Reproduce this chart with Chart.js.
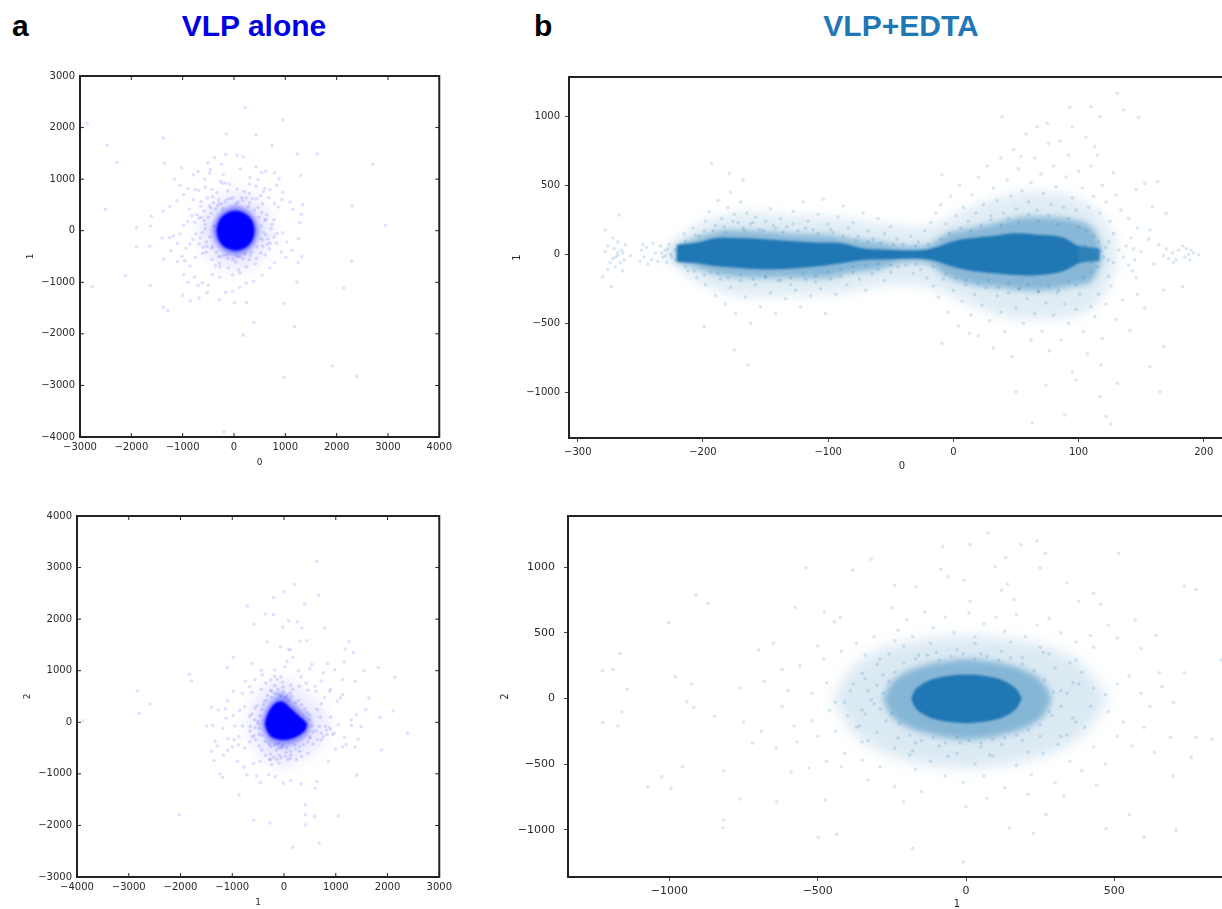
<!DOCTYPE html>
<html>
<head>
<meta charset="utf-8">
<title>VLP alone / VLP+EDTA</title>
<script src="https://cdn.jsdelivr.net/npm/chart.js@4"></script>
<style>
    html, body { margin: 0; width: 1222px; height: 909px; overflow: hidden; background: #fff; }
    canvas { position: absolute; }
    .head { position: absolute; top: 11px; font: bold 30px/1 "Liberation Sans", sans-serif; white-space: nowrap; }
    .mid { transform: translateX(-50%); }
</style>
</head>
<body>
<div class="head" style="left:12px;color:#000">a</div>
<div class="head mid" style="left:254px;color:#0000e6">VLP alone</div>
<div class="head" style="left:534px;color:#000">b</div>
<div class="head mid" style="left:901px;color:#1f77b4">VLP+EDTA</div>
<script>
// tick labels
const a1XTicks = [-3000, -2000, -1000, 0, 1000, 2000, 3000, 4000];
const a1YTicks = [-4000, -3000, -2000, -1000, 0, 1000, 2000, 3000];
const a2XTicks = [-4000, -3000, -2000, -1000, 0, 1000, 2000, 3000];
const a2YTicks = [-3000, -2000, -1000, 0, 1000, 2000, 3000, 4000];
const b1XTicks = [-300, -200, -100, 0, 100, 200];
const b1YTicks = [-1000, -500, 0, 500, 1000];
const b2XTicks = [-1000, -500, 0, 500, 1000];
const b2YTicks = [-1000, -500, 0, 500, 1000];

// dense cores, read as upper and lower outlines of each cloud
const a1CoreX = [-345, -300, -220, -120, 30, 180, 280, 365, 405];
const a1CoreTop = [0, 175, 285, 350, 385, 350, 285, 175, 0];
const a1CoreBottom = [0, -175, -285, -350, -385, -350, -285, -175, 0];
const a1FringeX = [-430, -350, -240, -100, 30, 160, 300, 410, 490];
const a1FringeTop = [0, 230, 370, 450, 480, 450, 370, 230, 0];
const a1FringeBottom = [0, -230, -370, -450, -480, -450, -370, -230, 0];
const a1MistX = [-700, -550, -350, -100, 40, 200, 430, 620, 780];
const a1MistTop = [0, 380, 600, 720, 760, 720, 600, 380, 0];
const a1MistBottom = [0, -380, -600, -720, -760, -720, -600, -380, 0];

const a2CoreX = [-370, -330, -260, -170, -70, 30, 130, 230, 320, 400, 445];
const a2CoreTop = [-10, 130, 270, 370, 410, 370, 270, 180, 100, 30, -30];
const a2CoreBottom = [-40, -170, -270, -320, -345, -345, -325, -285, -235, -170, -70];
const a2FringeX = [-450, -380, -280, -150, -50, 80, 220, 340, 450, 520];
const a2FringeTop = [0, 210, 370, 500, 560, 480, 330, 220, 120, -20];
const a2FringeBottom = [-50, -240, -370, -440, -470, -450, -400, -340, -240, -90];
const a2MistX = [-720, -560, -350, -100, 50, 250, 480, 720, 850];
const a2MistTop = [-30, 400, 680, 820, 820, 680, 480, 300, 0];
const a2MistBottom = [-30, -460, -700, -820, -830, -740, -600, -430, 0];

const b1CoreX = [-221, -204, -190, -168, -142, -112, -90, -72, -49, -38, -24, -14, -1, 13, 32, 50, 69, 87, 100];
const b1CoreTop = [68, 85, 116, 116, 104, 85, 80, 43, 31, 27, 31, 50, 92, 116, 133, 152, 140, 123, 55];
const b1CoreBottom = [-53, -65, -85, -100, -108, -90, -65, -41, -36, -31, -34, -48, -89, -118, -138, -150, -150, -125, -65];
const b1TailX = [96, 105, 117];
const b1TailTop = [70, 55, 43];
const b1TailBottom = [-75, -55, -46];
const b1FringeX = [-222, -205, -185, -160, -130, -100, -80, -60, -40, -20, -5, 15, 35, 55, 75, 95, 110, 118];
const b1FringeTop = [60, 120, 170, 170, 150, 140, 110, 90, 60, 70, 150, 190, 230, 270, 270, 250, 200, 60];
const b1FringeBottom = [-50, -100, -150, -170, -170, -170, -130, -110, -60, -70, -160, -220, -240, -260, -260, -230, -200, -60];
const b1MistX = [-230, -200, -170, -130, -90, -50, -20, 10, 40, 70, 100, 118, 130];
const b1MistTop = [50, 230, 300, 280, 260, 210, 200, 320, 420, 450, 400, 280, 100];
const b1MistBottom = [-40, -220, -300, -300, -280, -220, -240, -350, -450, -470, -440, -320, -100];

const b2CoreX = [-185, -170, -140, -100, -50, 0, 50, 100, 140, 170, 188];
const b2CoreTop = [0, 70, 120, 155, 175, 180, 175, 155, 120, 70, 0];
const b2CoreBottom = [0, -75, -125, -160, -180, -188, -180, -160, -125, -75, 0];
const b2FringeX = [-280, -250, -195, -120, -50, 5, 60, 130, 205, 260, 290];
const b2FringeTop = [0, 125, 210, 265, 290, 300, 290, 265, 210, 125, 0];
const b2FringeBottom = [0, -135, -220, -275, -305, -315, -305, -275, -220, -135, 0];
const b2MistX = [-450, -380, -280, -140, 0, 140, 290, 400, 480];
const b2MistTop = [0, 240, 380, 450, 470, 450, 380, 240, 0];
const b2MistBottom = [0, -260, -410, -500, -530, -500, -410, -260, 0];

// single faint points
const a1Points = [[220,2390],[950,2150],[-2860,2085],[-150,1875],[430,1860],[-1375,1800],[-2470,1660],[740,1650],[1240,1490],[1625,1490],[-2280,1325],[-1355,1305],[2700,1290],[1300,1065],[-2500,415],[2300,480],[2950,105],[2290,-590],[2140,-1110],[-2760,-1085],[-2115,-870],[-1630,-1065],[-1375,-1487],[-1290,-1550],[980,-1410],[1225,-1000],[390,-1780],[1175,-1860],[175,-2025],[1915,-2620],[2390,-2820],[980,-2840],[-200,-3900],
[-380,1420],[-160,1480],[60,1460],[180,1430],[-240,1290],[-510,1320],[-1020,1220],[-700,1150],[-460,1180],[430,1240],[120,1200],[540,1130],[-1160,1000],[-1050,880],[-790,1080],[-570,1000],[-480,1120],[-260,960],[-210,1090],[-90,900],[-230,920],[-170,925],[310,1030],[470,990],[620,1150],[790,1120],[880,1010],[-900,820],[-760,800],[-690,780],[-560,840],[-430,800],[-330,740],[-120,770],[60,810],[200,760],[300,900],[430,860],[600,820],[570,760],[700,800],[830,880],[950,740],[1340,510],[1310,320],[1280,160],[1150,410],[1090,560],[930,610],[860,460],[790,530],[680,640],[520,680],[440,620],[300,720],[150,640],[-20,640],[-130,610],[-300,600],[-410,660],[-520,640],[-640,560],[-650,470],[-790,600],[-870,420],[-980,700],[-1110,580],[-1250,470],[-1380,380],[-1610,280],[-1900,60],[-1630,90],[-1400,-140],[-1250,-130],[-1180,-100],[-1050,-60],[-980,100],[-900,180],[-820,290],[-720,310],[-580,200],[-560,40],[-660,-140],[-740,-60],[-860,-260],[-930,-340],[-1100,-250],[-1230,-390],[-1370,-550],[-1640,-300],[-1900,-310],[-1100,-600],[-1010,-500],[-960,-580],[-860,-680],[-750,-520],[-610,-440],[-530,-300],[-430,-560],[-360,-680],[-280,-630],[-200,-480],[-110,-720],[30,-600],[90,-760],[180,-540],[240,-700],[300,-560],[440,-540],[520,-430],[560,-300],[650,-260],[780,-120],[830,-240],[950,-40],[1030,-220],[1130,-380],[1260,-150],[1320,-500],[1250,-620],[1010,-520],[920,-410],[790,-620],[700,-720],[550,-860],[380,-980],[240,-1020],[110,-1100],[-30,-1170],[-280,-900],[-420,-850],[-500,-1060],[-620,-1010],[-770,-900],[-980,-850],[-1000,-1250],[-850,-1360],[-680,-1310],[-520,-1200],[-280,-1340],[10,-1400],[240,-1390],[-900,-1000],[-700,-1060],[-160,-1200],[-30,-860],[120,-820],[-300,-500],[-430,-340],[-540,-220],[-680,240],[-450,440],[-320,480],[-580,380],[540,350],[620,220],[740,120],[620,-80],[560,-180],[690,-350],[-120,-540],[60,-500],[320,-480],[-240,520],[80,560],[300,540],[470,450]];
const a1Near = [[-560,120],[-500,260],[-470,-120],[-440,340],[-420,-300],[-380,90],[-360,420],[-340,-420],[-290,520],[-260,-500],[-220,430],[-170,560],[-140,-470],[-70,620],[-20,-560],[40,520],[110,-510],[170,590],[210,-450],[280,470],[340,-420],[400,400],[450,-310],[490,260],[520,-150],[540,90],[580,-40],[600,200],[640,310],[660,-160],[700,-240],[720,40],[-620,-40],[-640,260],[-680,-260],[-600,-320],[-540,-420],[-480,480],[-400,540],[-280,-700],[240,640],[360,620],[420,-640],[560,520],[610,-470],[-760,160],[-800,-170],[780,210],[840,-60]];

const a2Points = [[635,3120],[205,2670],[-5,2530],[-200,2420],[670,2465],[400,2290],[-710,2250],[-360,2100],[-200,2090],[-585,1900],[-25,1850],[90,1970],[260,1950],[345,1830],[780,1830],[-330,1560],[315,1575],[440,1580],[1255,1560],[1180,1420],[1340,1355],[120,1400],[-70,1465],[-980,1260],[-615,1140],[-1095,1060],[-1830,930],[-1790,800],[-2830,610],[-2590,355],[-2795,175],[-3885,30],[2140,870],[1820,1060],[1370,790],[2110,220],[1850,95],[2385,-215],[1885,-535],[1405,-1025],[635,-1150],[600,-1280],[-870,-1405],[410,-1600],[410,-1790],[590,-1825],[1050,-1815],[410,-1990],[-585,-1900],[-275,-1955],[-2025,-1795],[680,-2340],[165,-2425],
[90,1420],[170,1260],[60,1180],[540,1120],[-180,1020],[-440,1010],[-420,920],[-180,890],[-60,880],[20,1080],[280,1000],[500,1040],[840,1140],[980,1020],[1160,1170],[1550,1000],[-740,800],[-660,690],[-560,830],[-350,760],[-260,820],[-130,830],[-30,780],[130,720],[330,880],[430,760],[600,700],[720,800],[900,640],[760,960],[1130,830],[1130,540],[1090,470],[1030,410],[880,600],[780,480],[620,600],[460,620],[300,700],[170,640],[-20,680],[-240,600],[-320,520],[-440,640],[-620,580],[-800,560],[-980,600],[-1090,420],[-1130,260],[-1270,240],[-1400,290],[-1500,-70],[-1380,-60],[-1180,-120],[-1120,80],[-980,130],[-950,-70],[-860,230],[-760,300],[-660,120],[-570,50],[-560,-100],[-660,-170],[-800,-70],[-870,-280],[-960,-340],[-1080,-320],[-1330,-370],[-1290,-460],[-1400,-560],[-1350,-740],[-1170,-640],[-1090,-540],[-1000,-480],[-900,-760],[-880,-440],[-760,-500],[-660,-380],[-580,-260],[-480,-460],[-430,-540],[-360,-640],[-280,-720],[-240,-820],[-150,-540],[-50,-500],[40,-580],[130,-640],[240,-720],[340,-660],[460,-600],[560,-420],[650,-340],[720,-340],[830,-240],[900,-140],[970,-210],[1050,-50],[1170,-290],[1200,-430],[1130,-480],[1000,-520],[860,-760],[1300,-60],[1490,-80],[1430,-330],[1370,-480],[1580,250],[1640,470],[1400,150],[1300,50],[900,100],[800,-80],[700,100],[640,250],[720,360],[-300,-1020],[-170,-1050],[-10,-1180],[130,-1130],[330,-1190],[-530,-1040],[-720,-1020],[-1240,-1000],[-1190,-1070],[-460,-1170],[-780,-870],[-590,-800],[-460,-760],[-100,-790],[70,-720],[300,-560],[500,-310],[-260,620],[-180,710],[60,520],[-380,400],[-520,320],[-500,-30],[-480,-230],[-280,-440],[-120,-420],[210,-440],[500,140],[-120,560],[120,560]];
const a2Near = [[-240,480],[-180,560],[-120,640],[-60,520],[-20,590],[30,480],[90,440],[150,500],[220,380],[280,420],[340,340],[400,260],[450,190],[500,60],[540,-70],[560,-190],[500,-280],[460,-380],[380,-430],[300,-470],[220,-520],[130,-560],[60,-500],[-30,-460],[-100,-500],[-180,-440],[-250,-480],[-300,-400],[-360,-370],[-430,-250],[-480,-120],[-510,20],[-470,130],[-430,250],[-400,340],[-340,430],[-550,-340],[-620,-280],[-650,-80],[-620,160],[-560,280],[620,-160],[680,-80],[720,-210],[760,-280],[820,-150],[880,-100],[940,-240],[-260,-620],[-200,-680],[-140,-720],[-60,-690],[30,-660],[120,-700],[-260,-720],[-90,-640]];

const b1Points = [[131,1167],[110,1070],[93,1065],[117,998],[136,1046],[148,993],[39,998],[95,925],[67,925],[76,804],[113,780],[54,708],[-9,575],[-193,659],[-168,539],[-179,587],[163,527],[153,514],[159,345],[170,297],[157,176],[-267,285],[-278,176],[-273,-234],[-280,-162],[-199,-524],[-175,-693],[-164,-802],[-9,-645],[13,-572],[98,-911],[118,-802],[157,-814],[168,-669],[165,-995],[131,-935],[50,-995],[74,-947],[89,-1164],[122,-1176],[126,-1229],[63,-1220],[117,-1031],[153,-391],[183,-234],[168,-258],
[-276,60],[-272,120],[-268,90],[-265,30],[-263,-40],[-270,-20],[-268,-10],[-272,-30],[-266,-60],[-270,-90],[-276,-110],[-264,-120],[-262,70],[-278,20],[-258,-10],[-274,-60],[-268,10],[-264,10],[-271,40],[-249,30],[-247,-20],[-245,50],[-241,-40],[-238,10],[-236,-50],[-234,60],[-232,-20],[-230,30],[-229,-60],[-227,70],[-226,0],[-233,10],[-240,80],[-244,-70],[-248,70],[-250,-50],
[124,90],[128,-60],[132,30],[136,-20],[138,60],[140,-80],[142,120],[143,-120],[144,40],[145,-40],[146,-170],[147,190],[150,20],[128,150],[124,-160],[170,40],[172,-30],[175,10],[178,-40],[180,30],[183,60],[185,-20],[186,40],[188,0],[189,-40],[190,30],[192,10],[176,-60],[168,-10],[164,70],[160,-70],[156,110],[196,-5],
[-215,150],[-208,190],[-203,130],[-198,240],[-195,310],[-192,170],[-188,390],[-185,260],[-183,200],[-180,340],[-178,450],[-175,290],[-172,230],[-170,380],[-167,170],[-165,300],[-162,220],[-158,270],[-155,180],[-150,240],[-146,330],[-142,190],[-138,260],[-133,200],[-128,310],[-124,170],[-120,380],[-116,240],[-112,180],[-108,290],[-104,400],[-100,220],[-96,160],[-92,270],[-88,350],[-84,190],[-80,230],[-76,130],[-72,300],[-68,170],[-64,110],[-60,260],[-55,150],[-50,200],[-45,110],[-40,70],[-34,130],[-28,90],[-23,170],[-18,230],[-14,300],[-10,360],[-6,220],[-2,420],[2,280],[5,500],[8,340],[12,240],[15,430],[18,300],[20,560],[24,360],[27,640],[30,280],[32,480],[35,390],[38,700],[40,300],[43,540],[46,420],[48,760],[50,330],[52,620],[55,460],[58,870],[60,380],[62,520],[65,700],[67,320],[70,580],[72,440],[75,950],[78,360],[80,640],[82,490],[85,820],[88,340],[90,560],[92,720],[95,410],[98,320],[100,600],[103,480],[106,850],[108,340],[110,640],[112,420],[115,720],[117,300],[119,500],[122,380],[125,240],[128,590],[130,430],[134,320],[140,260],[146,470],
[-212,-120],[-205,-170],[-198,-220],[-194,-130],[-190,-300],[-186,-180],[-182,-360],[-178,-240],[-174,-430],[-170,-190],[-166,-310],[-162,-500],[-158,-220],[-154,-380],[-150,-170],[-146,-280],[-142,-430],[-138,-190],[-134,-320],[-130,-220],[-126,-260],[-122,-380],[-118,-180],[-114,-300],[-110,-200],[-106,-250],[-102,-430],[-98,-180],[-94,-290],[-90,-160],[-85,-220],[-80,-130],[-75,-180],[-70,-260],[-65,-140],[-60,-110],[-55,-190],[-50,-130],[-44,-90],[-38,-80],[-32,-140],[-26,-110],[-21,-170],[-16,-230],[-12,-310],[-8,-180],[-4,-420],[0,-260],[4,-520],[7,-340],[10,-220],[14,-440],[17,-290],[20,-590],[23,-370],[26,-240],[29,-480],[32,-680],[35,-300],[38,-420],[41,-560],[44,-280],[47,-740],[50,-390],[53,-250],[56,-500],[59,-320],[62,-620],[65,-430],[68,-270],[71,-560],[74,-350],[77,-700],[80,-440],[83,-280],[86,-620],[89,-360],[92,-500],[95,-850],[98,-400],[101,-290],[104,-560],[107,-720],[110,-380],[113,-450],[116,-290],[119,-610],[122,-360],[126,-230],[130,-470],[135,-330],[141,-550],[147,-290]];
const b1Near = [[-214,90],[-206,140],[-199,170],[-190,210],[-182,160],[-176,240],[-168,190],[-160,230],[-152,170],[-144,210],[-136,160],[-128,220],[-118,190],[-108,150],[-98,180],[-88,130],[-78,100],[-68,90],[-58,80],[-48,70],[-30,60],[-20,70],[-10,110],[-3,150],[6,190],[14,170],[22,210],[30,250],[38,210],[44,260],[52,230],[60,290],[68,240],[76,280],[84,220],[92,260],[100,200],[106,170],[112,130],[116,90],
[-214,-90],[-207,-120],[-199,-150],[-188,-140],[-180,-170],[-170,-150],[-160,-180],[-150,-160],[-140,-190],[-130,-170],[-120,-140],[-110,-160],[-100,-130],[-90,-110],[-80,-90],[-70,-80],[-60,-70],[-50,-80],[-30,-70],[-16,-90],[-6,-140],[2,-170],[10,-190],[20,-210],[28,-190],[36,-240],[44,-210],[52,-250],[60,-220],[68,-270],[76,-230],[84,-260],[92,-200],[98,-220],[104,-170],[110,-130],[115,-90],
[-222,30],[-225,-20],[-228,40],[-230,-10],[-222,-40],[105,60],[110,-60],[118,20],[120,-20],[122,50],[124,-40]];

const b2Points = [[73,1260],[14,1172],[-79,1155],[185,1172],[239,1200],[267,1105],[515,1104],[134,1073],[-320,1060],[-540,995],[-382,977],[-84,985],[99,1002],[250,995],[-60,926],[-6,900],[-168,850],[120,825],[-910,787],[-870,723],[736,855],[775,830],[161,754],[14,741],[379,741],[453,718],[-1003,579],[-444,584],[-424,617],[-576,693],[-478,660],[-1166,343],[-1225,211],[-1190,221],[-980,165],[-1143,71],[-925,109],[-1161,-101],[-1225,-183],[-1174,-208],[-941,-25],[-918,-69],[-848,-135],[-956,-520],[-1026,-596],[-1073,-673],[-995,-685],[-817,-551],[-817,-926],[-820,-985],[-498,-1058],[-436,-1035],[-180,-1142],[-9,-1244],[146,-985],[227,-1028],[472,-990],[600,-1058],[708,-1003],[550,-883],[270,-883],[0,-825],[-211,-787],[-475,-774],[-638,-787],[-762,-766],[759,-449],[697,-591],[829,-310],[775,-297],[689,-297],[635,-411],[860,292],[736,195],[652,195],
[-250,690],[-230,520],[-240,440],[-200,600],[-180,470],[-140,660],[-110,540],[-70,620],[-40,500],[10,650],[30,470],[60,570],[100,620],[130,510],[170,640],[200,470],[240,560],[280,610],[320,500],[370,430],[420,480],[430,390],[480,560],[510,460],[570,600],[590,380],[640,480],[-370,420],[-340,330],[-310,470],[-290,300],[-420,360],[-480,300],[-500,400],[-560,250],[-620,220],[-650,420],[-700,370],[-760,80],[-680,130],[-600,60],[-520,40],[-470,120],[-440,-30],[-390,60],[-340,150],[-320,-10],[-350,-90],[-400,-130],[-460,-90],[-520,-170],[-580,-210],[-620,-60],[-690,-250],[-750,-180],[-720,-340],[-640,-380],[-570,-330],[-500,-290],[-440,-250],[-370,-220],[-330,-320],[-300,-260],[-410,-420],[-470,-480],[-530,-530],[-590,-560],[-350,-470],[-290,-520],[-240,-380],[-190,-430],[-170,-540],[-120,-480],[-70,-590],[-30,-420],[-10,-640],[30,-500],[60,-590],[90,-440],[130,-680],[170,-510],[220,-580],[260,-420],[300,-640],[350,-480],[390,-550],[430,-370],[470,-500],[510,-290],[560,-360],[600,-220],[530,-180],[480,-100],[420,-60],[370,-180],[340,-280],[310,-350],[290,-130],[320,60],[360,120],[390,200],[430,80],[470,30],[510,110],[550,170],[590,40],[620,-60],[660,90],[700,-30],[350,270],[300,230],[280,340],[250,390],[-280,180],[-300,100],[-290,-80],[-270,-170],[-230,-300],[-170,-340],[-90,-360],[-20,-340],[50,-370],[120,-350],[190,-320],[250,-290],[-160,330],[-100,350],[-30,370],[50,340],[120,360],[190,310],[-420,-520],[-330,-620],[-240,-670],[-150,-710],[70,-760],[210,-730],[330,-740],[440,-660],[140,870],[-240,860],[340,880],[430,800]];
const b2Near = [[-280,40],[-260,130],[-250,-110],[-240,200],[-225,-190],[-210,270],[-190,-280],[-170,300],[-150,-320],[-130,330],[-110,-300],[-90,290],[-70,-340],[-50,320],[-30,-300],[-10,340],[10,-320],[30,300],[50,-340],[70,320],[90,-310],[110,290],[130,-300],[150,310],[170,-280],[190,260],[210,-240],[230,210],[250,-200],[265,140],[280,-100],[295,50],[-310,-40],[-330,60],[-340,-120],[-350,190],[-360,-210],[-380,110],[-410,-30],[320,-60],[340,40],[360,-150],[380,110],[400,-220],[-300,260],[-260,340],[-210,400],[-180,-400],[-120,420],[-60,-440],[30,420],[80,-430],[150,430],[210,-410],[260,350],[320,-290],[370,290],[-350,-330]];

function minusLabel(value) {
    return String(value).replace('-', '\u2212');
}

// box around the plot, and the small inward ticks on the left hand panels
const framePlugin = {
    id: 'frame',
    afterDatasetsDraw(chart, args, opts) {
        const { ctx, chartArea: area, scales } = chart;
        ctx.save();
        ctx.strokeStyle = '#222';
        if (opts.inward) {
            ctx.lineWidth = 1;
            ctx.beginPath();
            scales.x.ticks.forEach(t => {
                const px = scales.x.getPixelForValue(t.value);
                ctx.moveTo(px, area.top); ctx.lineTo(px, area.top + 4);
                ctx.moveTo(px, area.bottom); ctx.lineTo(px, area.bottom - 4);
            });
            scales.y.ticks.forEach(t => {
                const py = scales.y.getPixelForValue(t.value);
                ctx.moveTo(area.left, py); ctx.lineTo(area.left + 4, py);
                ctx.moveTo(area.right, py); ctx.lineTo(area.right - 4, py);
            });
            ctx.stroke();
        }
        ctx.lineWidth = 2;
        ctx.strokeRect(area.left, area.top, area.right - area.left, area.bottom - area.top);
        ctx.restore();
    }
};

function outline(xs, ys) {
    return xs.map((x, i) => ({ x: x, y: ys[i] }));
}

// top and bottom outline of one layer, filled between them
function band(xs, top, bottom, fill) {
    const common = { type: 'line', borderWidth: 0, pointRadius: 0, tension: 0.35 };
    return [
        { ...common, data: outline(xs, top), fill: '+1', backgroundColor: fill },
        { ...common, data: outline(xs, bottom), fill: false }
    ];
}

function scatterSet(points, color, radius) {
    return {
        data: points.map(p => ({ x: p[0], y: p[1] })),
        backgroundColor: color,
        borderWidth: 0,
        pointRadius: radius
    };
}

// one panel is a stack of charts on the same scales: soft clouds below, points and axes on top
function makePanel(box, cfg) {
    cfg.layers.forEach((layer, i) => {
        const isTop = i === cfg.layers.length - 1;
        const canvas = document.createElement('canvas');
        canvas.width = box.width;
        canvas.height = box.height;
        canvas.style.left = box.left + 'px';
        canvas.style.top = box.top + 'px';
        canvas.style.width = box.width + 'px';
        canvas.style.height = box.height + 'px';
        canvas.style.filter = 'blur(' + layer.blur + 'px)';
        document.body.appendChild(canvas);

        const textColor = isTop ? '#2a2a2a' : 'transparent';
        const axis = (min, max, ticks, title, isX) => ({
            type: 'linear',
            min: min,
            max: max,
            afterBuildTicks: s => { s.ticks = ticks.map(v => ({ value: v })); },
            afterFit: s => {
                if (isX) { s.height = box.bottomSpace; } else { s.width = box.leftSpace; }
            },
            grid: cfg.inward
                ? { display: false, drawTicks: false }
                : { drawOnChartArea: false, tickLength: 4, color: isTop ? '#444' : 'transparent' },
            border: { display: false },
            ticks: {
                includeBounds: false,
                autoSkip: false,
                maxRotation: 0,
                padding: isX ? cfg.padX : cfg.padY,
                color: textColor,
                font: { family: 'DejaVu Sans', size: cfg.fontSize },
                callback: v => minusLabel(v)
            },
            title: {
                display: true,
                text: title,
                color: textColor,
                padding: 0,
                font: { family: 'DejaVu Sans', size: cfg.titleSize }
            }
        });

        new Chart(canvas, {
            type: 'scatter',
            data: { datasets: layer.datasets },
            options: {
                responsive: false,
                animation: false,
                layout: { padding: { top: 20, right: 15, bottom: 0, left: 0 } },
                plugins: {
                    legend: { display: false },
                    tooltip: { enabled: false },
                    frame: { inward: cfg.inward }
                },
                scales: {
                    x: axis(cfg.xMin, cfg.xMax, cfg.xTicks, cfg.xTitle, true),
                    y: axis(cfg.yMin, cfg.yMax, cfg.yTicks, cfg.yTitle, false)
                }
            },
            plugins: isTop ? [framePlugin] : []
        });
    });
}

const BLUE_SOLID = 'rgb(0,0,255)';
const TEAL_SOLID = '#1f77b4';
const BLUE_POINT = 'rgba(0,0,255,0.12)';
const TEAL_POINT = 'rgba(31,119,180,0.17)';

makePanel({ left: 25, top: 56, width: 431, height: 412, leftSpace: 55, bottomSpace: 31 }, {
    inward: true, padX: 4, padY: 5, fontSize: 10, titleSize: 9,
    xMin: -3000, xMax: 4000, yMin: -4000, yMax: 3000,
    xTicks: a1XTicks, yTicks: a1YTicks, xTitle: '0', yTitle: '1',
    layers: [
        { blur: 7, datasets: band(a1MistX, a1MistTop, a1MistBottom, 'rgba(0,0,255,0.09)') },
        { blur: 2.5, datasets: band(a1FringeX, a1FringeTop, a1FringeBottom, 'rgba(0,0,255,0.45)') },
        { blur: 1, datasets: band(a1CoreX, a1CoreTop, a1CoreBottom, BLUE_SOLID) },
        { blur: 0.45, datasets: [scatterSet(a1Points, BLUE_POINT, 1.8), scatterSet(a1Near, BLUE_POINT, 1.8)] }
    ]
});

makePanel({ left: 22, top: 496, width: 434, height: 412, leftSpace: 55, bottomSpace: 31 }, {
    inward: true, padX: 4, padY: 5, fontSize: 10, titleSize: 9,
    xMin: -4000, xMax: 3000, yMin: -3000, yMax: 4000,
    xTicks: a2XTicks, yTicks: a2YTicks, xTitle: '1', yTitle: '2',
    layers: [
        { blur: 7, datasets: band(a2MistX, a2MistTop, a2MistBottom, 'rgba(0,0,255,0.09)') },
        { blur: 2.5, datasets: band(a2FringeX, a2FringeTop, a2FringeBottom, 'rgba(0,0,255,0.38)') },
        { blur: 1, datasets: band(a2CoreX, a2CoreTop, a2CoreBottom, BLUE_SOLID) },
        { blur: 0.45, datasets: [scatterSet(a2Points, BLUE_POINT, 1.8), scatterSet(a2Near, BLUE_POINT, 1.8)] }
    ]
});

makePanel({ left: 511, top: 57, width: 739, height: 415, leftSpace: 58, bottomSpace: 34 }, {
    inward: false, padX: 4, padY: 5, fontSize: 10, titleSize: 10,
    xMin: -307, xMax: 225, yMin: -1331, yMax: 1285,
    xTicks: b1XTicks, yTicks: b1YTicks, xTitle: '0', yTitle: '1',
    layers: [
        { blur: 6, datasets: band(b1MistX, b1MistTop, b1MistBottom, 'rgba(31,119,180,0.14)') },
        { blur: 3, datasets: band(b1FringeX, b1FringeTop, b1FringeBottom, 'rgba(31,119,180,0.45)') },
        { blur: 1, datasets: [...band(b1CoreX, b1CoreTop, b1CoreBottom, TEAL_SOLID), ...band(b1TailX, b1TailTop, b1TailBottom, 'rgba(31,119,180,0.85)')] },
        { blur: 0.45, datasets: [scatterSet(b1Points, TEAL_POINT, 1.8), scatterSet(b1Near, TEAL_POINT, 1.8)] }
    ]
});

makePanel({ left: 499, top: 496, width: 862, height: 414, leftSpace: 69, bottomSpace: 33 }, {
    inward: false, padX: 4, padY: 9, fontSize: 11, titleSize: 10,
    xMin: -1342, xMax: 1281, yMin: -1360, yMax: 1390,
    xTicks: b2XTicks, yTicks: b2YTicks, xTitle: '1', yTitle: '2',
    layers: [
        { blur: 7, datasets: band(b2MistX, b2MistTop, b2MistBottom, 'rgba(31,119,180,0.16)') },
        { blur: 3, datasets: band(b2FringeX, b2FringeTop, b2FringeBottom, 'rgba(31,119,180,0.45)') },
        { blur: 1, datasets: band(b2CoreX, b2CoreTop, b2CoreBottom, TEAL_SOLID) },
        { blur: 0.45, datasets: [scatterSet(b2Points, TEAL_POINT, 1.8), scatterSet(b2Near, TEAL_POINT, 1.8)] }
    ]
});
</script>
</body>
</html>
